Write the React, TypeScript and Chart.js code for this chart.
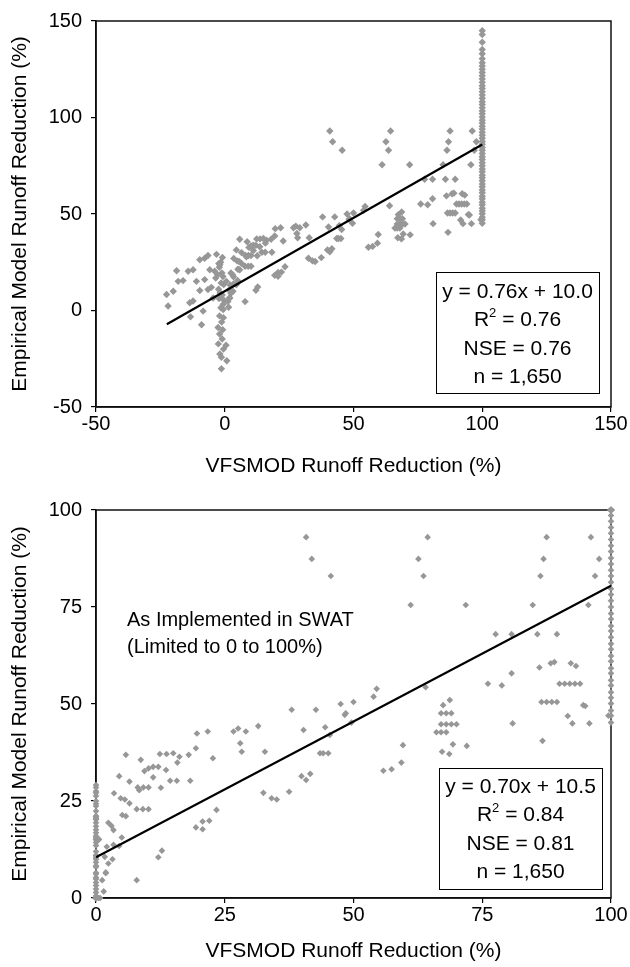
import React, { useEffect, useRef } from "react";
import { Chart, registerables } from "chart.js";

Chart.register(...registerables);

type Pt = [number, number];

// ---------- DATA (VFSMOD % on x, empirical model % on y) ----------
const negativeZonePoints: Pt[] = [
  [-22.6, 8.3], [-22.0, 2.3], [-20.0, 10.0], [-18.7, 20.6], [-18.1, 15.1], [-16.2, 15.5],
  [-14.2, 20.3], [-12.3, 21.1], [-9.7, 26.3], [-7.8, 27.1], [-6.5, 28.5], [-3.2, 29.1],
  [-11.0, 15.1], [-7.8, 16.0], [-9.7, 10.4], [-6.5, 10.9], [-5.2, 12.0], [-13.6, 4.0],
  [-12.3, 4.9], [-13.3, -3.3], [-8.4, -0.3], [-9.0, -7.4], [-5.8, 21.1], [-3.9, 20.3],
  [-1.9, 23.7], [-3.5, 16.8], [-4.5, 6.5], [-1.3, -30.2], [-1.9, -22.5], [-1.3, -24.2],
  [-0.5, -20.0], [-2.5, -17.3], [-1.0, -14.8], [-2.0, -12.2], [-0.8, -10.0], [-2.6, -8.8],
  [-1.2, -6.0], [-0.5, -3.7], [-2.0, -2.8], [-1.5, 1.4], [-0.6, 3.2], [-2.2, 6.2],
  [-1.0, 8.0], [-0.4, 13.5], [-2.8, 18.5], [-1.6, 25.0], [-0.9, 27.5], [-2.4, 11.0],
  [-1.8, 9.2], [-0.7, 17.6], [-2.1, 22.4], [-1.1, 19.4], [-0.3, 5.3], [-1.4, 14.3],
  [-2.3, 24.3], [-0.6, 0.5], [0.5, -18.0], [0.8, -26.0],
];

const lowZonePoints: Pt[] = [
  [0.6, 15.1], [1.9, 6.6], [3.2, 10.0], [4.5, 13.4], [2.4, 19.4], [3.0, 18.6], [3.4, 17.5],
  [5.0, 15.6], [3.4, 13.7], [2.1, 13.2], [1.7, 10.6], [2.4, 8.9], [1.9, 6.4], [1.2, 4.6],
  [1.5, 1.7], [3.5, 27.0], [4.8, 25.7], [5.6, 25.4], [6.5, 24.4], [4.5, 31.4], [6.5, 30.0],
  [5.1, 21.4], [5.8, 21.1], [5.8, 36.9], [8.7, 35.6], [9.4, 32.7], [10.2, 33.4], [11.1, 33.8],
  [12.1, 33.8], [13.6, 33.0], [11.1, 31.1], [8.1, 28.5], [9.2, 28.5], [10.2, 28.5], [8.4, 27.8],
  [12.6, 28.4], [14.4, 30.2], [15.7, 30.2], [18.3, 30.2], [7.9, 22.9], [9.1, 22.9], [10.2, 22.9],
  [12.4, 37.1], [13.7, 37.1], [15.0, 37.3], [16.2, 36.4], [15.8, 34.9], [18.0, 36.9], [19.4, 38.6],
  [22.7, 36.0], [19.6, 42.4], [21.7, 42.9], [23.4, 22.7], [20.7, 19.7], [22.0, 19.9], [19.4, 18.2],
  [20.7, 17.7], [12.8, 12.2], [12.1, 10.5], [7.9, 4.6],
];

const midZonePoints: Pt[] = [
  [26.7, 42.9], [27.6, 43.7], [29.1, 42.9], [28.0, 39.9], [28.3, 37.7], [31.5, 44.3], [32.8, 37.7],
  [38.0, 48.5], [42.7, 48.5], [40.3, 43.3], [45.4, 42.0], [44.5, 44.0], [47.5, 50.0], [48.3, 47.2],
  [48.5, 47.6], [49.6, 45.2], [50.0, 50.5], [43.5, 37.3], [44.1, 37.3], [45.1, 37.3], [39.9, 31.4],
  [40.8, 30.4], [41.6, 32.0], [32.5, 27.1], [34.1, 25.7], [35.1, 25.4], [37.5, 27.4], [53.9, 51.9],
  [54.5, 53.9], [55.8, 32.8], [57.4, 33.2], [59.3, 34.9], [59.6, 39.4],
];

const highZonePoints: Pt[] = [
  [64.0, 54.3], [66.1, 42.7], [67.0, 42.7], [68.0, 42.7], [67.0, 44.8], [68.0, 44.8], [69.0, 44.8],
  [70.0, 44.8], [67.0, 47.6], [68.0, 47.6], [69.0, 47.6], [67.4, 49.7], [68.7, 51.0], [67.2, 37.7],
  [68.6, 37.1], [69.3, 39.6], [72.0, 39.2], [76.1, 55.2], [78.8, 54.8], [80.7, 57.9], [80.9, 45.0],
  [86.7, 40.5], [86.1, 59.4], [88.3, 60.5], [89.0, 60.8], [92.2, 60.5], [93.2, 59.8], [86.5, 50.5],
  [87.5, 50.5], [88.5, 50.5], [89.5, 50.5], [90.0, 55.2], [91.0, 55.2], [92.0, 55.2], [93.0, 55.2],
  [94.0, 55.2], [94.6, 49.7], [95.0, 49.5], [91.6, 46.9], [92.5, 45.0], [95.8, 45.0], [99.5, 47.0],
  [77.6, 68.0], [80.7, 68.0], [85.7, 68.0], [89.5, 68.0],
];

const upperZonePoints: Pt[] = [
  [40.8, 93.0], [41.9, 87.4], [45.6, 83.0], [64.4, 93.0], [62.6, 87.4], [63.6, 83.0], [61.1, 75.5],
  [71.8, 75.5], [87.5, 93.0], [86.9, 87.4], [86.3, 83.0], [84.8, 75.5], [96.1, 93.0], [97.7, 87.4],
  [96.9, 83.0], [95.6, 75.5],
];

// empirical values where VFSMOD predicts 100 % reduction
const fullReductionY: number[] = [
  45.2, 47, 48.3, 50.1, 51.6, 53, 54.8, 56.1, 57.9, 59.2, 61, 62.4, 64.1, 65.5, 67.2, 68.8, 70.1,
  71.9, 73.3, 75, 76.6, 78.2, 79.7, 81.4, 83, 84.5, 86.1, 87.6, 89.3, 90.8, 92.4, 94, 95.5, 97.1,
  98.6, 100.2, 101.9, 103.4, 105.1, 106.7, 108.2, 110, 111.6, 113.3, 115, 116.5, 118.2, 120, 121.6,
  123.3, 125, 126.7, 128.4, 130.5, 133, 135.2, 139, 143, 145,
];

const topTrend: Pt[] = [[-22.5, -7.1], [100, 86.0]];
const bottomTrend: Pt[] = [[0, 10.5], [100, 80.5]];

const topAxisRange = [-50, 150, 50];
const bottomAxisRange = [0, 100, 25];

const topStatsLines = ["y = 0.76x + 10.0", "R^2 = 0.76", "NSE = 0.76", "n = 1,650"];
const bottomStatsLines = ["y = 0.70x + 10.5", "R^2 = 0.84", "NSE = 0.81", "n = 1,650"];
const bottomNoteLines = ["As Implemented in SWAT", "(Limited to 0 to 100%)"];

const xTitle = "VFSMOD Runoff Reduction (%)";
const yTitle = "Empirical Model Runoff Reduction (%)";

// ---------- STYLE ----------
const FONT = "'Liberation Sans', Arial, Helvetica, sans-serif";
const POINT_COLOR = "#979797";

const rawPoints: Pt[] = [
  ...negativeZonePoints,
  ...lowZonePoints,
  ...midZonePoints,
  ...highZonePoints,
  ...upperZonePoints,
  ...fullReductionY.map((y) => [100, y] as Pt),
];

// SWAT limits both values to the 0..100 % range
const clamp = (v: number) => Math.min(100, Math.max(0, v));
const limitedPoints: Pt[] = rawPoints.map(([x, y]) => [clamp(x), clamp(y)]);

const toXY = (pts: Pt[]) => pts.map(([x, y]) => ({ x, y }));

type Box = { x: number; y: number; w: number; h: number; firstLine: number; gap: number };

function drawStats(ctx: CanvasRenderingContext2D, lines: string[], box: Box, fontPx: number) {
  ctx.save();
  ctx.fillStyle = "#fff";
  ctx.fillRect(box.x, box.y, box.w, box.h);
  ctx.strokeStyle = "#000";
  ctx.lineWidth = 1;
  ctx.strokeRect(box.x + 0.5, box.y + 0.5, box.w, box.h);
  ctx.fillStyle = "#000";
  ctx.textBaseline = "middle";
  const big = `${fontPx}px ${FONT}`;
  const small = `${Math.round(fontPx * 0.62)}px ${FONT}`;
  const cx = box.x + box.w / 2;
  lines.forEach((line, i) => {
    const y = box.firstLine + i * box.gap;
    const m = line.match(/^(.*)\^(\d)(.*)$/);
    if (m) {
      ctx.font = big;
      const w1 = ctx.measureText(m[1]).width;
      const w3 = ctx.measureText(m[3]).width;
      ctx.font = small;
      const w2 = ctx.measureText(m[2]).width;
      let x = cx - (w1 + w2 + w3) / 2;
      ctx.textAlign = "left";
      ctx.font = big;
      ctx.fillText(m[1], x, y);
      x += w1;
      ctx.font = small;
      ctx.fillText(m[2], x, y - fontPx * 0.36);
      x += w2;
      ctx.font = big;
      ctx.fillText(m[3], x, y);
    } else {
      ctx.font = big;
      ctx.textAlign = "center";
      ctx.fillText(line, cx, y);
    }
  });
  ctx.restore();
}

type Spec = {
  points: Pt[];
  trend: Pt[];
  range: number[];
  pointRadius: number;
  padTop: number;
  xHeight: number;
  xTitleBottom: number;
  stats: string[];
  statsBox: Box;
  note?: { lines: string[]; x: number; y: number; gap: number };
};

function makeConfig(spec: Spec): any {
  const [min, max, step] = spec.range;
  const tickFont = { family: FONT, size: 20 };
  const titleFont = { family: FONT, size: 21 };
  const overlay = {
    id: "overlay",
    beforeDatasetsDraw(chart: any) {
      const { ctx, chartArea } = chart;
      ctx.save();
      ctx.strokeStyle = "#111";
      ctx.lineWidth = 1.5;
      ctx.strokeRect(chartArea.left, chartArea.top, chartArea.right - chartArea.left, chartArea.bottom - chartArea.top);
      ctx.restore();
    },
    afterDraw(chart: any) {
      const ctx = chart.ctx as CanvasRenderingContext2D;
      drawStats(ctx, spec.stats, spec.statsBox, 21);
      if (spec.note) {
        ctx.save();
        ctx.fillStyle = "#000";
        ctx.font = `20px ${FONT}`;
        ctx.textAlign = "left";
        ctx.textBaseline = "middle";
        spec.note.lines.forEach((l, i) => ctx.fillText(l, spec.note!.x, spec.note!.y + i * spec.note!.gap));
        ctx.restore();
      }
    },
  };
  const axisCommon = (isX: boolean) => ({
    type: "linear",
    min,
    max,
    ticks: {
      stepSize: step,
      font: tickFont,
      color: "#000",
      padding: isX ? 0 : 9,
      maxRotation: 0,
      autoSkip: false,
    },
    grid: { drawOnChartArea: false, drawTicks: true, tickLength: 5, color: "#000", lineWidth: 1.2 },
    border: { display: true, color: "#000", width: 1.5 },
    title: {
      display: true,
      text: isX ? xTitle : yTitle,
      font: titleFont,
      color: "#000",
      padding: isX ? { top: 0, bottom: spec.xTitleBottom } : { top: 8, bottom: 0 },
    },
  });
  return {
    type: "scatter",
    data: {
      datasets: [
        {
          type: "scatter",
          data: toXY(spec.trend),
          showLine: true,
          borderColor: "#000",
          borderWidth: 2.2,
          pointRadius: 0,
          fill: false,
          order: 0,
        },
        {
          type: "scatter",
          data: toXY(spec.points),
          pointStyle: "rectRot",
          pointRadius: spec.pointRadius,
          backgroundColor: POINT_COLOR,
          borderWidth: 0,
          clip: false,
          order: 1,
        },
      ],
    },
    options: {
      animation: false,
      responsive: false,
      events: [],
      layout: { padding: { top: spec.padTop, right: 19, bottom: 0, left: 0 } },
      plugins: { legend: { display: false }, tooltip: { enabled: false } },
      scales: {
        x: {
          ...axisCommon(true),
          position: "bottom",
          afterFit: (s: any) => {
            s.height = spec.xHeight;
          },
        },
        y: {
          ...axisCommon(false),
          position: "left",
          afterFit: (s: any) => {
            s.width = 96;
          },
        },
      },
    },
    plugins: [overlay],
  };
}

const topSpec: Spec = {
  points: rawPoints,
  trend: topTrend,
  range: topAxisRange,
  pointRadius: 3.7,
  padTop: 17,
  xHeight: 78,
  xTitleBottom: 6,
  stats: topStatsLines,
  statsBox: { x: 436, y: 272, w: 163, h: 121, firstLine: 292, gap: 28.5 },
};

const bottomSpec: Spec = {
  points: limitedPoints,
  trend: bottomTrend,
  range: bottomAxisRange,
  pointRadius: 3.3,
  padTop: 25,
  xHeight: 69,
  xTitleBottom: 3,
  stats: bottomStatsLines,
  statsBox: { x: 439, y: 283, w: 163, h: 121, firstLine: 302, gap: 28.5 },
  note: { lines: bottomNoteLines, x: 127, y: 135, gap: 27 },
};

function ScatterPanel({ spec, height }: { spec: Spec; height: number }) {
  const ref = useRef<HTMLCanvasElement | null>(null);
  useEffect(() => {
    if (!ref.current) return;
    const chart = new Chart(ref.current, makeConfig(spec));
    return () => chart.destroy();
  }, [spec]);
  return <canvas ref={ref} width={630} height={height} style={{ display: "block", width: 630, height }} />;
}

export default function App() {
  useEffect(() => {
    document.body.style.margin = "0";
  }, []);
  return (
    <div style={{ width: 630, height: 967, background: "#fff" }}>
      <ScatterPanel spec={topSpec} height={485} />
      <ScatterPanel spec={bottomSpec} height={482} />
    </div>
  );
}
